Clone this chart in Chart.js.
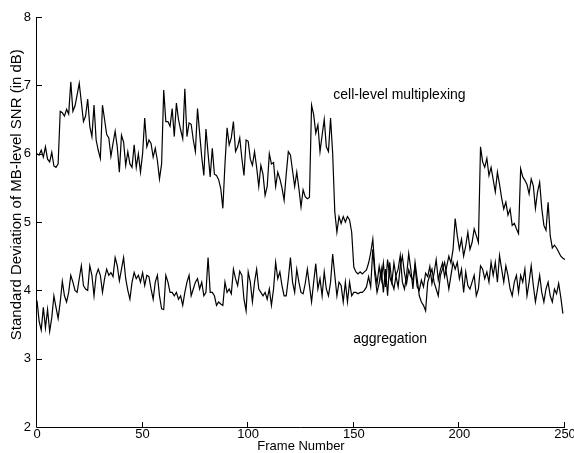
<!DOCTYPE html>
<html>
<head>
<meta charset="utf-8">
<script src="https://cdn.jsdelivr.net/npm/chart.js@4/dist/chart.umd.min.js"></script>
<style>
html,body{margin:0;padding:0;background:#fff;}
#wrap{width:574px;height:453px;}
</style>
</head>
<body>
<div id="wrap"><canvas id="c" width="574" height="453"></canvas></div>
<script>
// Standard deviation of MB-level SNR (dB) per frame, "cell-level multiplexing"
const cellLevel = [
6.00,5.98,6.05,5.95,6.10,5.92,5.88,6.02,5.82,5.80,
5.85,6.62,6.60,6.55,6.65,6.58,7.05,6.62,6.70,6.86,
7.03,6.75,6.47,6.55,6.80,6.40,6.25,6.71,6.20,6.05,
5.93,6.71,6.50,6.28,6.23,5.96,6.15,6.33,6.10,5.73,
6.27,6.17,5.83,6.03,5.85,5.80,6.13,5.80,6.00,5.73,
6.00,6.52,6.10,6.20,6.15,5.95,6.08,5.90,5.63,5.85,
6.93,6.47,6.47,6.40,6.66,6.25,6.74,6.50,6.35,6.22,
6.95,6.25,6.45,6.43,6.20,6.03,6.66,6.30,5.95,5.68,
6.36,6.00,5.66,6.08,5.70,5.68,5.62,5.49,5.20,5.85,
6.38,6.13,6.23,6.47,6.03,6.10,6.23,5.93,5.68,6.20,
6.18,5.92,5.83,6.03,5.80,5.52,5.83,5.70,5.39,5.52,
6.00,5.85,5.87,5.52,5.73,5.63,5.50,5.32,5.70,6.03,
5.98,5.75,5.52,5.73,5.49,5.22,5.47,5.37,5.34,5.36,
6.71,6.57,6.30,6.42,6.03,6.27,6.50,6.10,6.03,6.52,
6.00,5.15,4.85,5.08,4.98,5.08,5.00,5.08,5.03,4.85,
4.34,4.27,4.24,4.27,4.24,4.27,4.30,4.40,4.55,4.75,
4.30,4.10,4.35,4.15,4.40,4.05,4.45,4.20,4.10,4.40,
4.20,4.05,4.35,4.50,4.25,4.10,4.30,4.20,4.15,4.35,
4.05,4.00,4.15,4.05,4.25,4.20,4.35,4.10,4.25,4.45,
4.15,4.30,4.40,4.20,4.35,4.50,4.40,4.60,5.05,4.80,
4.60,4.75,4.50,4.65,4.85,4.60,4.70,4.90,4.80,4.70,
6.10,5.88,5.80,5.93,5.68,5.80,5.62,5.44,5.73,5.55,
5.35,5.19,5.29,5.10,5.19,4.95,4.98,4.90,4.83,5.78,
5.66,5.61,5.55,5.41,5.63,5.53,5.20,5.44,5.58,5.20,
4.95,4.88,5.29,4.80,4.62,4.66,4.62,4.56,4.50,4.47,
4.45
];
// "aggregation"
const aggregation = [
3.85,3.55,3.42,3.75,3.45,3.72,3.40,3.60,3.92,3.75,
3.59,3.83,4.13,3.92,3.83,3.97,4.22,4.12,4.00,3.97,
4.17,4.36,4.07,4.02,4.00,4.36,4.22,3.92,4.22,4.31,
4.22,3.97,4.17,4.31,4.22,4.26,4.20,4.48,4.36,4.14,
4.31,4.48,4.17,4.00,3.87,4.12,4.26,4.17,4.22,4.12,
4.26,4.07,4.22,4.20,4.02,3.87,4.12,4.22,3.92,3.73,
3.72,4.22,4.12,3.97,3.97,3.92,3.97,3.87,3.92,3.78,
3.97,4.12,4.22,3.92,4.02,4.12,4.17,4.02,4.12,3.92,
3.97,4.48,3.97,3.97,3.92,3.78,3.83,3.80,3.78,4.12,
3.97,4.02,3.95,4.31,4.17,4.07,4.28,4.22,3.87,3.70,
4.27,4.12,3.83,4.12,4.31,4.02,3.97,3.92,3.97,3.87,
4.02,3.78,4.02,4.41,4.17,4.27,4.07,3.92,3.92,4.17,
4.48,4.12,3.97,4.31,4.12,3.97,3.95,4.10,4.31,4.07,
3.83,4.12,4.39,4.02,4.17,3.92,4.27,4.02,3.92,4.12,
4.53,4.22,3.92,4.12,4.07,3.83,4.12,3.83,4.12,3.92,
3.97,3.97,3.95,3.97,3.97,4.00,4.05,4.20,4.05,4.60,
4.22,3.97,4.10,4.31,3.97,4.31,3.92,4.41,4.12,4.02,
4.22,4.31,4.51,4.12,4.02,4.22,4.54,4.31,4.02,4.41,
4.17,3.92,3.83,3.78,3.70,4.12,4.22,4.31,4.12,4.02,
3.92,4.22,4.31,4.41,4.22,4.02,4.22,4.41,4.31,4.41,
4.17,4.31,3.97,4.27,4.07,4.02,4.12,4.22,3.92,4.02,
4.36,4.31,4.17,4.27,4.12,4.41,4.22,4.41,4.12,4.51,
4.31,4.12,4.36,4.22,4.02,3.92,4.12,4.22,3.97,4.22,
4.12,4.31,3.92,4.12,4.36,4.07,3.83,4.02,4.22,3.97,
3.83,4.02,4.12,3.92,3.83,4.02,3.95,4.10,3.90,3.66
];
const xTicks = [0, 50, 100, 150, 200, 250];
const yTicks = [2, 3, 4, 5, 6, 7, 8];
const seriesLabels = ["cell-level multiplexing", "aggregation"];
const labelAnchors = [[140.3, 6.86], [149.7, 3.29]]; // [frame, dB] where the text labels sit
const xTitle = "Frame Number";
const yTitle = "Standard Deviation of MB-level SNR (in dB)";
const yTitleCenter = 5.4; // dB level at which the rotated y-axis title is centred

const FONT = "'Liberation Sans', Arial, Helvetica, sans-serif";

const toXY = arr => arr.map((v, i) => ({x: i, y: v}));

const axesPlugin = {
  id: 'matlabAxes',
  afterDraw(chart) {
    const ctx = chart.ctx, xs = chart.scales.x, ys = chart.scales.y;
    const L = xs.getPixelForValue(xTicks[0]);
    const R = xs.getPixelForValue(xTicks[xTicks.length - 1]);
    const B = ys.getPixelForValue(yTicks[0]);
    const T = ys.getPixelForValue(yTicks[yTicks.length - 1]);
    ctx.save();
    ctx.strokeStyle = '#000';
    ctx.lineWidth = 1;
    ctx.beginPath();
    ctx.moveTo(Math.round(L) - 0.5, T);
    ctx.lineTo(Math.round(L) - 0.5, B + 0.5);
    ctx.lineTo(R, B + 0.5);
    xTicks.forEach(t => {
      const px = Math.round(xs.getPixelForValue(t)) - 0.5;
      ctx.moveTo(px, B);
      ctx.lineTo(px, B - 5);
    });
    yTicks.forEach(t => {
      const py = Math.round(ys.getPixelForValue(t)) + 0.5;
      ctx.moveTo(L, py);
      ctx.lineTo(L + 5, py);
    });
    ctx.stroke();
    ctx.fillStyle = '#000';
    ctx.font = '14px ' + FONT;
    ctx.textBaseline = 'middle';
    ctx.textAlign = 'left';
    seriesLabels.forEach((s, i) => {
      ctx.fillText(s, xs.getPixelForValue(labelAnchors[i][0]), ys.getPixelForValue(labelAnchors[i][1]));
    });
    // rotated y-axis title
    ctx.translate(17, ys.getPixelForValue(yTitleCenter));
    ctx.rotate(-Math.PI / 2);
    ctx.font = '15px ' + FONT;
    ctx.textAlign = 'center';
    ctx.fillText(yTitle, 0, 0);
    ctx.restore();
  }
};

new Chart(document.getElementById('c'), {
  type: 'line',
  data: {
    datasets: [
      {label: seriesLabels[0], data: toXY(cellLevel), borderColor: '#000', borderWidth: 1.2, pointRadius: 0, tension: 0, fill: false},
      {label: seriesLabels[1], data: toXY(aggregation), borderColor: '#000', borderWidth: 1.2, pointRadius: 0, tension: 0, fill: false}
    ]
  },
  options: {
    responsive: false,
    animation: false,
    events: [],
    layout: {padding: {top: 17, right: 9, left: 0, bottom: 0}},
    plugins: {legend: {display: false}, tooltip: {enabled: false}, title: {display: false}},
    scales: {
      x: {
        type: 'linear', min: 0, max: 250,
        afterBuildTicks: s => { s.ticks = xTicks.map(v => ({value: v})); },
        afterFit: s => { s.height = 26; s.paddingLeft = 0; s.paddingRight = 0; },
        grid: {display: false, drawTicks: false},
        border: {display: false},
        ticks: {color: '#000', font: {family: FONT, size: 13}, padding: 0, maxRotation: 0, autoSkip: false},
        title: {display: true, text: xTitle, color: '#000', font: {family: FONT, size: 13, lineHeight: 1}, padding: {top: 0, bottom: 0}}
      },
      y: {
        type: 'linear', min: 2, max: 8,
        afterBuildTicks: s => { s.ticks = yTicks.map(v => ({value: v})); },
        afterFit: s => { s.width = 37; s.paddingTop = 0; s.paddingBottom = 0; },
        grid: {display: false, drawTicks: false},
        border: {display: false},
        ticks: {color: '#000', font: {family: FONT, size: 13}, padding: 6, autoSkip: false},
        title: {display: false}
      }
    }
  },
  plugins: [axesPlugin]
});
</script>
</body>
</html>
